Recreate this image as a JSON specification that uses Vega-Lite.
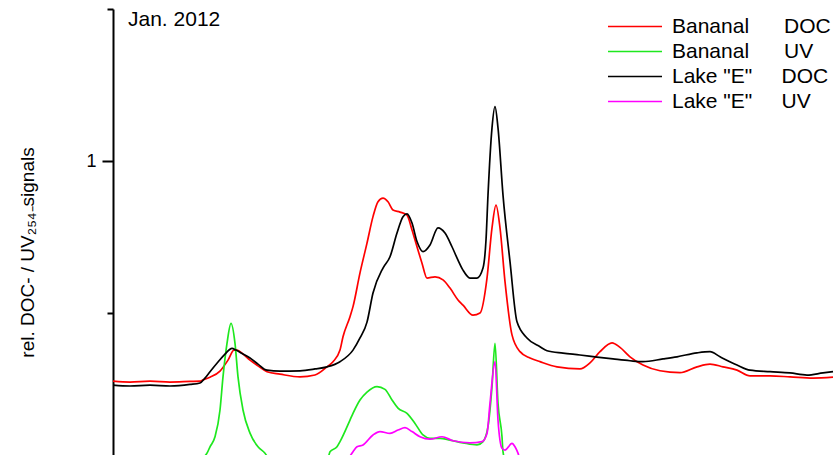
{
  "$schema": "https://vega.github.io/schema/vega-lite/v6.json",
  "width": 721,
  "height": 446,
  "autosize": {"type": "none"},
  "padding": {"left": 113, "top": 9, "right": 0, "bottom": 0},
  "background": "white",
  "config": {"view": {"stroke": null}, "font": "Liberation Sans"},
  "title": {
    "text": "Jan. 2012", "anchor": "start", "frame": "group", "orient": "top",
    "offset": -33, "baseline": "middle", "dx": 15,
    "fontSize": 21, "fontWeight": "normal", "font": "Liberation Sans", "color": "black"
  },
  "data": {"values": [
    {"series": "Bananal DOC", "t": 0, "signal": 0.276},
    {"series": "Bananal DOC", "t": 1.7, "signal": 0.273},
    {"series": "Bananal DOC", "t": 3.7, "signal": 0.276},
    {"series": "Bananal DOC", "t": 5.7, "signal": 0.273},
    {"series": "Bananal DOC", "t": 7.7, "signal": 0.275},
    {"series": "Bananal DOC", "t": 8.7, "signal": 0.276},
    {"series": "Bananal DOC", "t": 9.0, "signal": 0.280},
    {"series": "Bananal DOC", "t": 9.7, "signal": 0.289},
    {"series": "Bananal DOC", "t": 10.7, "signal": 0.309},
    {"series": "Bananal DOC", "t": 11.5, "signal": 0.345},
    {"series": "Bananal DOC", "t": 12.1, "signal": 0.378},
    {"series": "Bananal DOC", "t": 12.4, "signal": 0.378},
    {"series": "Bananal DOC", "t": 13.0, "signal": 0.365},
    {"series": "Bananal DOC", "t": 13.7, "signal": 0.345},
    {"series": "Bananal DOC", "t": 14.5, "signal": 0.326},
    {"series": "Bananal DOC", "t": 15.4, "signal": 0.307},
    {"series": "Bananal DOC", "t": 16.7, "signal": 0.299},
    {"series": "Bananal DOC", "t": 18.7, "signal": 0.290},
    {"series": "Bananal DOC", "t": 20.2, "signal": 0.296},
    {"series": "Bananal DOC", "t": 21.4, "signal": 0.323},
    {"series": "Bananal DOC", "t": 22.0, "signal": 0.340},
    {"series": "Bananal DOC", "t": 22.7, "signal": 0.378},
    {"series": "Bananal DOC", "t": 23.0, "signal": 0.422},
    {"series": "Bananal DOC", "t": 23.7, "signal": 0.488},
    {"series": "Bananal DOC", "t": 24.0, "signal": 0.521},
    {"series": "Bananal DOC", "t": 24.7, "signal": 0.632},
    {"series": "Bananal DOC", "t": 25.4, "signal": 0.730},
    {"series": "Bananal DOC", "t": 26.0, "signal": 0.817},
    {"series": "Bananal DOC", "t": 26.5, "signal": 0.866},
    {"series": "Bananal DOC", "t": 27.0, "signal": 0.878},
    {"series": "Bananal DOC", "t": 27.5, "signal": 0.866},
    {"series": "Bananal DOC", "t": 28.0, "signal": 0.839},
    {"series": "Bananal DOC", "t": 28.7, "signal": 0.832},
    {"series": "Bananal DOC", "t": 29.4, "signal": 0.822},
    {"series": "Bananal DOC", "t": 29.9, "signal": 0.773},
    {"series": "Bananal DOC", "t": 30.4, "signal": 0.718},
    {"series": "Bananal DOC", "t": 30.9, "signal": 0.664},
    {"series": "Bananal DOC", "t": 31.4, "signal": 0.615},
    {"series": "Bananal DOC", "t": 32.2, "signal": 0.619},
    {"series": "Bananal DOC", "t": 33.0, "signal": 0.609},
    {"series": "Bananal DOC", "t": 33.7, "signal": 0.582},
    {"series": "Bananal DOC", "t": 34.5, "signal": 0.543},
    {"series": "Bananal DOC", "t": 35.0, "signal": 0.526},
    {"series": "Bananal DOC", "t": 36.0, "signal": 0.493},
    {"series": "Bananal DOC", "t": 36.7, "signal": 0.500},
    {"series": "Bananal DOC", "t": 37.4, "signal": 0.615},
    {"series": "Bananal DOC", "t": 37.9, "signal": 0.780},
    {"series": "Bananal DOC", "t": 38.3, "signal": 0.855},
    {"series": "Bananal DOC", "t": 38.7, "signal": 0.780},
    {"series": "Bananal DOC", "t": 39.2, "signal": 0.603},
    {"series": "Bananal DOC", "t": 39.9, "signal": 0.428},
    {"series": "Bananal DOC", "t": 40.7, "signal": 0.373},
    {"series": "Bananal DOC", "t": 41.7, "signal": 0.352},
    {"series": "Bananal DOC", "t": 42.7, "signal": 0.340},
    {"series": "Bananal DOC", "t": 44.4, "signal": 0.323},
    {"series": "Bananal DOC", "t": 46.7, "signal": 0.316},
    {"series": "Bananal DOC", "t": 47.7, "signal": 0.336},
    {"series": "Bananal DOC", "t": 48.7, "signal": 0.373},
    {"series": "Bananal DOC", "t": 49.9, "signal": 0.402},
    {"series": "Bananal DOC", "t": 50.7, "signal": 0.387},
    {"series": "Bananal DOC", "t": 51.7, "signal": 0.356},
    {"series": "Bananal DOC", "t": 53.0, "signal": 0.329},
    {"series": "Bananal DOC", "t": 54.7, "signal": 0.310},
    {"series": "Bananal DOC", "t": 56.7, "signal": 0.304},
    {"series": "Bananal DOC", "t": 58.4, "signal": 0.323},
    {"series": "Bananal DOC", "t": 59.7, "signal": 0.332},
    {"series": "Bananal DOC", "t": 61.0, "signal": 0.323},
    {"series": "Bananal DOC", "t": 62.4, "signal": 0.312},
    {"series": "Bananal DOC", "t": 63.7, "signal": 0.293},
    {"series": "Bananal DOC", "t": 65.7, "signal": 0.293},
    {"series": "Bananal DOC", "t": 67.7, "signal": 0.290},
    {"series": "Bananal DOC", "t": 70.0, "signal": 0.286},
    {"series": "Bananal DOC", "t": 72.0, "signal": 0.289},

    {"series": "Bananal UV", "t": 0, "signal": 0},
    {"series": "Bananal UV", "t": 8.2, "signal": 0},
    {"series": "Bananal UV", "t": 9.0, "signal": 0.023},
    {"series": "Bananal UV", "t": 9.4, "signal": 0.039},
    {"series": "Bananal UV", "t": 9.7, "signal": 0.060},
    {"series": "Bananal UV", "t": 10.2, "signal": 0.093},
    {"series": "Bananal UV", "t": 10.7, "signal": 0.181},
    {"series": "Bananal UV", "t": 11.0, "signal": 0.290},
    {"series": "Bananal UV", "t": 11.4, "signal": 0.400},
    {"series": "Bananal UV", "t": 11.8, "signal": 0.466},
    {"series": "Bananal UV", "t": 12.2, "signal": 0.400},
    {"series": "Bananal UV", "t": 12.5, "signal": 0.290},
    {"series": "Bananal UV", "t": 13.0, "signal": 0.181},
    {"series": "Bananal UV", "t": 13.7, "signal": 0.105},
    {"series": "Bananal UV", "t": 14.5, "signal": 0.060},
    {"series": "Bananal UV", "t": 15.2, "signal": 0.039},
    {"series": "Bananal UV", "t": 15.7, "signal": 0.016},
    {"series": "Bananal UV", "t": 17.2, "signal": 0},
    {"series": "Bananal UV", "t": 20.7, "signal": 0},
    {"series": "Bananal UV", "t": 21.5, "signal": 0.023},
    {"series": "Bananal UV", "t": 21.7, "signal": 0.044},
    {"series": "Bananal UV", "t": 22.4, "signal": 0.060},
    {"series": "Bananal UV", "t": 22.7, "signal": 0.077},
    {"series": "Bananal UV", "t": 23.7, "signal": 0.148},
    {"series": "Bananal UV", "t": 24.0, "signal": 0.170},
    {"series": "Bananal UV", "t": 24.7, "signal": 0.214},
    {"series": "Bananal UV", "t": 25.4, "signal": 0.240},
    {"series": "Bananal UV", "t": 26.4, "signal": 0.258},
    {"series": "Bananal UV", "t": 27.2, "signal": 0.249},
    {"series": "Bananal UV", "t": 27.9, "signal": 0.214},
    {"series": "Bananal UV", "t": 28.5, "signal": 0.187},
    {"series": "Bananal UV", "t": 29.4, "signal": 0.170},
    {"series": "Bananal UV", "t": 30.2, "signal": 0.137},
    {"series": "Bananal UV", "t": 31.0, "signal": 0.099},
    {"series": "Bananal UV", "t": 31.7, "signal": 0.088},
    {"series": "Bananal UV", "t": 32.7, "signal": 0.088},
    {"series": "Bananal UV", "t": 33.7, "signal": 0.082},
    {"series": "Bananal UV", "t": 35.0, "signal": 0.073},
    {"series": "Bananal UV", "t": 36.4, "signal": 0.066},
    {"series": "Bananal UV", "t": 37.0, "signal": 0.077},
    {"series": "Bananal UV", "t": 37.5, "signal": 0.126},
    {"series": "Bananal UV", "t": 37.9, "signal": 0.258},
    {"series": "Bananal UV", "t": 38.2, "signal": 0.400},
    {"series": "Bananal UV", "t": 38.5, "signal": 0.203},
    {"series": "Bananal UV", "t": 38.9, "signal": 0.093},
    {"series": "Bananal UV", "t": 39.0, "signal": 0.044},
    {"series": "Bananal UV", "t": 39.3, "signal": 0.010},
    {"series": "Bananal UV", "t": 40.2, "signal": 0},
    {"series": "Bananal UV", "t": 72.0, "signal": 0},

    {"series": "Lake \"E\" DOC", "t": 0, "signal": 0.263},
    {"series": "Lake \"E\" DOC", "t": 1.7, "signal": 0.260},
    {"series": "Lake \"E\" DOC", "t": 3.7, "signal": 0.263},
    {"series": "Lake \"E\" DOC", "t": 5.7, "signal": 0.260},
    {"series": "Lake \"E\" DOC", "t": 7.7, "signal": 0.265},
    {"series": "Lake \"E\" DOC", "t": 8.7, "signal": 0.270},
    {"series": "Lake \"E\" DOC", "t": 9.2, "signal": 0.286},
    {"series": "Lake \"E\" DOC", "t": 9.7, "signal": 0.307},
    {"series": "Lake \"E\" DOC", "t": 10.5, "signal": 0.339},
    {"series": "Lake \"E\" DOC", "t": 11.2, "signal": 0.365},
    {"series": "Lake \"E\" DOC", "t": 11.9, "signal": 0.384},
    {"series": "Lake \"E\" DOC", "t": 12.3, "signal": 0.378},
    {"series": "Lake \"E\" DOC", "t": 13.0, "signal": 0.365},
    {"series": "Lake \"E\" DOC", "t": 13.7, "signal": 0.352},
    {"series": "Lake \"E\" DOC", "t": 14.5, "signal": 0.332},
    {"series": "Lake \"E\" DOC", "t": 15.4, "signal": 0.312},
    {"series": "Lake \"E\" DOC", "t": 16.7, "signal": 0.309},
    {"series": "Lake \"E\" DOC", "t": 18.7, "signal": 0.310},
    {"series": "Lake \"E\" DOC", "t": 20.2, "signal": 0.316},
    {"series": "Lake \"E\" DOC", "t": 21.4, "signal": 0.323},
    {"series": "Lake \"E\" DOC", "t": 22.7, "signal": 0.340},
    {"series": "Lake \"E\" DOC", "t": 24.0, "signal": 0.378},
    {"series": "Lake \"E\" DOC", "t": 24.7, "signal": 0.418},
    {"series": "Lake \"E\" DOC", "t": 25.4, "signal": 0.470},
    {"series": "Lake \"E\" DOC", "t": 26.0, "signal": 0.566},
    {"series": "Lake \"E\" DOC", "t": 27.0, "signal": 0.648},
    {"series": "Lake \"E\" DOC", "t": 27.7, "signal": 0.685},
    {"series": "Lake \"E\" DOC", "t": 28.4, "signal": 0.763},
    {"series": "Lake \"E\" DOC", "t": 29.0, "signal": 0.817},
    {"series": "Lake \"E\" DOC", "t": 29.4, "signal": 0.826},
    {"series": "Lake \"E\" DOC", "t": 29.9, "signal": 0.796},
    {"series": "Lake \"E\" DOC", "t": 30.4, "signal": 0.735},
    {"series": "Lake \"E\" DOC", "t": 31.0, "signal": 0.702},
    {"series": "Lake \"E\" DOC", "t": 31.7, "signal": 0.724},
    {"series": "Lake \"E\" DOC", "t": 32.5, "signal": 0.780},
    {"series": "Lake \"E\" DOC", "t": 33.2, "signal": 0.763},
    {"series": "Lake \"E\" DOC", "t": 33.9, "signal": 0.718},
    {"series": "Lake \"E\" DOC", "t": 34.5, "signal": 0.674},
    {"series": "Lake \"E\" DOC", "t": 35.0, "signal": 0.641},
    {"series": "Lake \"E\" DOC", "t": 35.7, "signal": 0.615},
    {"series": "Lake \"E\" DOC", "t": 36.4, "signal": 0.615},
    {"series": "Lake \"E\" DOC", "t": 37.0, "signal": 0.648},
    {"series": "Lake \"E\" DOC", "t": 37.3, "signal": 0.740},
    {"series": "Lake \"E\" DOC", "t": 37.5, "signal": 0.888},
    {"series": "Lake \"E\" DOC", "t": 37.9, "signal": 1.109},
    {"series": "Lake \"E\" DOC", "t": 38.2, "signal": 1.179},
    {"series": "Lake \"E\" DOC", "t": 38.5, "signal": 1.109},
    {"series": "Lake \"E\" DOC", "t": 39.0, "signal": 0.888},
    {"series": "Lake \"E\" DOC", "t": 39.7, "signal": 0.669},
    {"series": "Lake \"E\" DOC", "t": 40.4, "signal": 0.471},
    {"series": "Lake \"E\" DOC", "t": 41.4, "signal": 0.418},
    {"series": "Lake \"E\" DOC", "t": 42.7, "signal": 0.389},
    {"series": "Lake \"E\" DOC", "t": 43.4, "signal": 0.376},
    {"series": "Lake \"E\" DOC", "t": 45.0, "signal": 0.368},
    {"series": "Lake \"E\" DOC", "t": 46.7, "signal": 0.362},
    {"series": "Lake \"E\" DOC", "t": 48.4, "signal": 0.355},
    {"series": "Lake \"E\" DOC", "t": 50.0, "signal": 0.349},
    {"series": "Lake \"E\" DOC", "t": 51.7, "signal": 0.343},
    {"series": "Lake \"E\" DOC", "t": 53.0, "signal": 0.340},
    {"series": "Lake \"E\" DOC", "t": 55.0, "signal": 0.349},
    {"series": "Lake \"E\" DOC", "t": 56.4, "signal": 0.356},
    {"series": "Lake \"E\" DOC", "t": 58.4, "signal": 0.369},
    {"series": "Lake \"E\" DOC", "t": 59.7, "signal": 0.373},
    {"series": "Lake \"E\" DOC", "t": 60.7, "signal": 0.356},
    {"series": "Lake \"E\" DOC", "t": 62.4, "signal": 0.329},
    {"series": "Lake \"E\" DOC", "t": 63.7, "signal": 0.312},
    {"series": "Lake \"E\" DOC", "t": 65.7, "signal": 0.307},
    {"series": "Lake \"E\" DOC", "t": 67.7, "signal": 0.303},
    {"series": "Lake \"E\" DOC", "t": 69.4, "signal": 0.296},
    {"series": "Lake \"E\" DOC", "t": 71.0, "signal": 0.303},
    {"series": "Lake \"E\" DOC", "t": 72.0, "signal": 0.307},

    {"series": "Lake \"E\" UV", "t": 0, "signal": 0},
    {"series": "Lake \"E\" UV", "t": 22.7, "signal": 0},
    {"series": "Lake \"E\" UV", "t": 23.5, "signal": 0.020},
    {"series": "Lake \"E\" UV", "t": 24.0, "signal": 0.044},
    {"series": "Lake \"E\" UV", "t": 24.4, "signal": 0.060},
    {"series": "Lake \"E\" UV", "t": 25.0, "signal": 0.066},
    {"series": "Lake \"E\" UV", "t": 26.0, "signal": 0.099},
    {"series": "Lake \"E\" UV", "t": 26.7, "signal": 0.110},
    {"series": "Lake \"E\" UV", "t": 27.7, "signal": 0.104},
    {"series": "Lake \"E\" UV", "t": 28.5, "signal": 0.115},
    {"series": "Lake \"E\" UV", "t": 29.2, "signal": 0.123},
    {"series": "Lake \"E\" UV", "t": 29.9, "signal": 0.110},
    {"series": "Lake \"E\" UV", "t": 30.7, "signal": 0.093},
    {"series": "Lake \"E\" UV", "t": 31.7, "signal": 0.085},
    {"series": "Lake \"E\" UV", "t": 32.9, "signal": 0.093},
    {"series": "Lake \"E\" UV", "t": 34.0, "signal": 0.080},
    {"series": "Lake \"E\" UV", "t": 35.7, "signal": 0.073},
    {"series": "Lake \"E\" UV", "t": 36.9, "signal": 0.077},
    {"series": "Lake \"E\" UV", "t": 37.4, "signal": 0.104},
    {"series": "Lake \"E\" UV", "t": 37.7, "signal": 0.203},
    {"series": "Lake \"E\" UV", "t": 38.2, "signal": 0.340},
    {"series": "Lake \"E\" UV", "t": 38.5, "signal": 0.148},
    {"series": "Lake \"E\" UV", "t": 38.9, "signal": 0.055},
    {"series": "Lake \"E\" UV", "t": 39.2, "signal": 0.049},
    {"series": "Lake \"E\" UV", "t": 39.9, "signal": 0.071},
    {"series": "Lake \"E\" UV", "t": 40.2, "signal": 0.060},
    {"series": "Lake \"E\" UV", "t": 40.5, "signal": 0.039},
    {"series": "Lake \"E\" UV", "t": 40.8, "signal": 0.010},
    {"series": "Lake \"E\" UV", "t": 41.7, "signal": 0},
    {"series": "Lake \"E\" UV", "t": 72.0, "signal": 0}
  ]},
  "mark": {"type": "line", "clip": true, "strokeJoin": "round", "interpolate": "monotone"},
  "encoding": {
    "x": {
      "field": "t", "type": "quantitative",
      "scale": {"domain": [0, 72.1], "nice": false, "zero": false},
      "axis": null
    },
    "y": {
      "field": "signal", "type": "quantitative",
      "scale": {"domain": [0.033, 1.5], "nice": false, "zero": false},
      "axis": {
        "values": [0.5, 1, 1.5],
        "labelExpr": "datum.value == 1 ? '1' : ''",
        "grid": false,
        "domainColor": "black", "domainWidth": 2,
        "tickColor": "black", "tickWidth": 2,
        "tickSize": {"condition": {"test": "datum.value == 1", "value": 11}, "value": 6},
        "labelFont": "Liberation Sans", "labelFontSize": 18, "labelColor": "black", "labelPadding": 6,
        "title": "rel. DOC- / UV₂₅₄₋signals",
        "titleFont": "Liberation Sans", "titleFontSize": 19, "titleFontWeight": "normal", "titleColor": "black",
        "titleAngle": 270, "titleX": -86, "titleY": 243, "titleAlign": "center", "titleBaseline": "middle"
      }
    },
    "color": {
      "field": "series", "type": "nominal",
      "scale": {
        "domain": ["Bananal DOC", "Bananal UV", "Lake \"E\" DOC", "Lake \"E\" UV"],
        "range": ["#ff0000", "#1ee81e", "#000000", "#ff00ff"]
      },
      "legend": {
        "title": null, "orient": "none", "legendX": 494, "legendY": 5.3, "padding": 0,
        "symbolType": "stroke", "symbolSize": 2916, "symbolStrokeWidth": 1.6,
        "clipHeight": 24.4, "rowPadding": 0, "labelOffset": 9,
        "labelFont": "Liberation Sans", "labelFontSize": 21, "labelColor": "black", "labelLimit": 400,
        "labelExpr": "substring(datum.label, 0, 7) == 'Bananal' ? replace(datum.label, ' ', '\u00a0\u00a0\u00a0\u00a0\u00a0\u00a0') : replace(datum.label, '\" ', '\"\u00a0\u00a0\u00a0\u00a0\u00a0')"
      }
    },
    "strokeWidth": {
      "field": "series", "type": "nominal",
      "scale": {
        "domain": ["Bananal DOC", "Bananal UV", "Lake \"E\" DOC", "Lake \"E\" UV"],
        "range": [1.7, 1.7, 2.4, 1.7]
      },
      "legend": null
    }
  }
}
